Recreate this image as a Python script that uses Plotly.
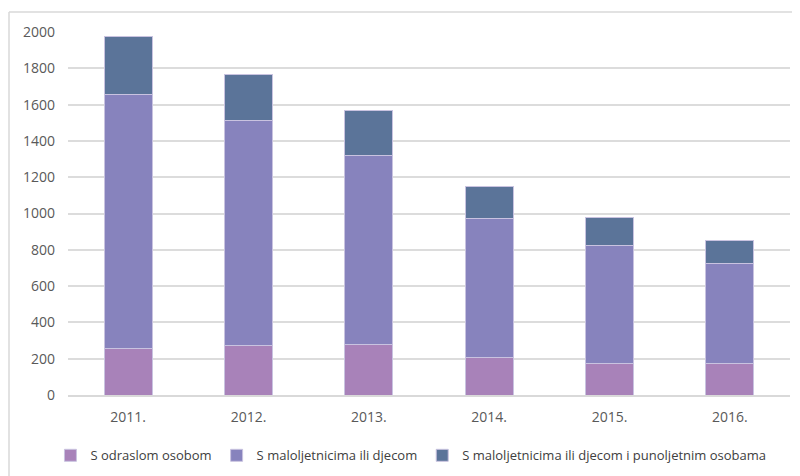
import plotly.graph_objects as go

years = ["2011.", "2012.", "2013.", "2014.", "2015.", "2016."]
odraslom = [258, 274, 281, 205, 176, 176]
maloljetnicima = [1400, 1236, 1036, 766, 650, 547]
s_punoljetnim = [317, 255, 252, 177, 151, 129]

names = [
    "S odraslom osobom",
    "S maloljetnicima ili djecom",
    "S maloljetnicima ili djecom i punoljetnim osobama",
]
colors = ["#a882b9", "#8783bd", "#5b7499"]

fig = go.Figure()
for name, vals, col in zip(names, [odraslom, maloljetnicima, s_punoljetnim], colors):
    fig.add_bar(x=years, y=vals, name=name,
                marker=dict(color=col, line=dict(color="#c9c3e0", width=1)))

# page body adds an 8px margin, so the figure is a bit smaller than the window
W, H = 792, 468
ml, mr, mt, mb = 60, 10, 24, 81
pw, ph = W - ml - mr, H - mt - mb

fig.update_layout(
    barmode="stack", bargap=0.6,
    width=W, height=H,
    margin=dict(l=ml, r=mr, t=mt, b=mb, autoexpand=False),
    paper_bgcolor="white", plot_bgcolor="white",
    font=dict(family="Open Sans, Noto Sans, sans-serif", size=13, color="#595959"),
    showlegend=True,
    legend=dict(orientation="h", x=0.475, xanchor="center", y=-0.125, yanchor="top",
                font=dict(size=13, color="#404040"), traceorder="normal",
                itemwidth=30),
    xaxis=dict(showgrid=False, showline=True, linecolor="#d9d9d9", linewidth=1.5,
               ticks="", ticklabelstandoff=8, tickfont=dict(size=14)),
    yaxis=dict(range=[0, 2000], dtick=200, showgrid=True, gridcolor="#dcdcdc",
               gridwidth=1.5, zeroline=False, ticks="", ticklabelstandoff=12,
               tickfont=dict(size=14)),
    shapes=[
        dict(type="line", xref="paper", yref="paper",
             x0=(1 - ml) / pw, x1=(W - ml) / pw,
             y0=(H - mb - 4) / ph, y1=(H - mb - 4) / ph,
             line=dict(color="#d9d9d9", width=1.5)),
        dict(type="line", xref="paper", yref="paper",
             x0=(1 - ml) / pw, x1=(1 - ml) / pw,
             y0=(H - mb - 4) / ph, y1=-mb / ph,
             line=dict(color="#d9d9d9", width=1.5)),
    ],
)

fig.write_html("out.html")
